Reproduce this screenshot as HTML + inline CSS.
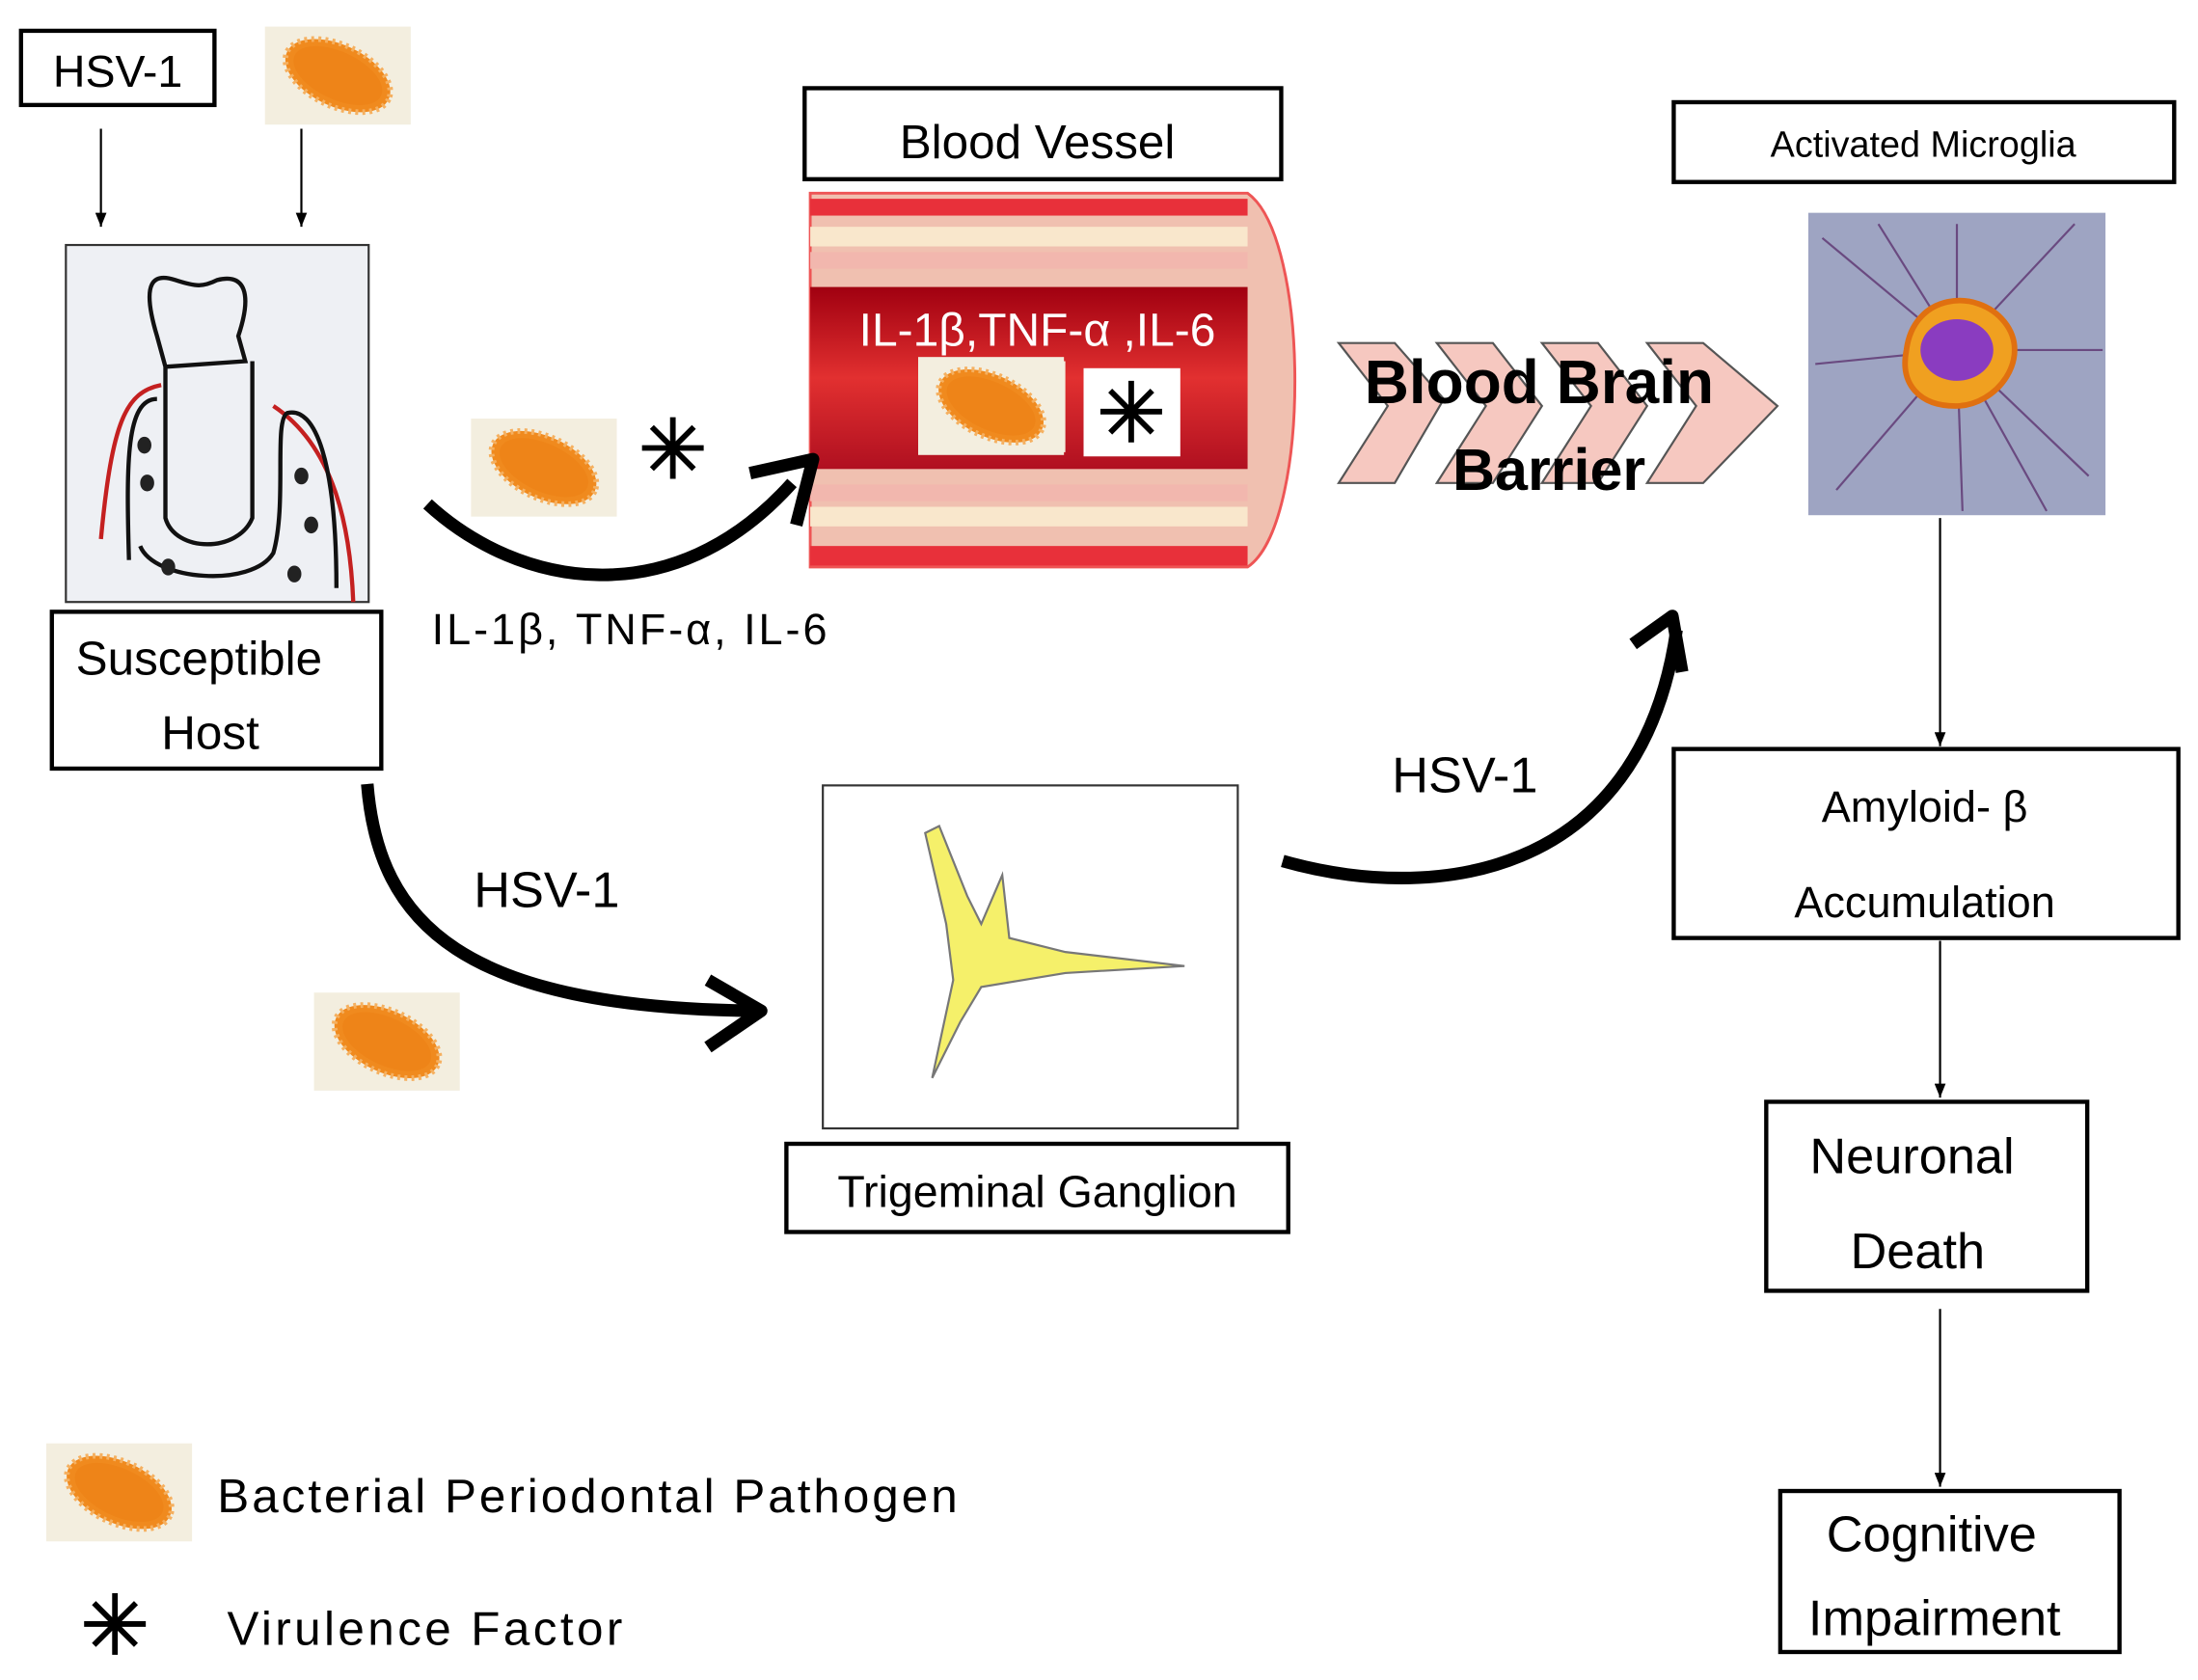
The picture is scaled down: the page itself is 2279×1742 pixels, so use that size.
<!DOCTYPE html>
<html><head><meta charset="utf-8"><style>html,body{margin:0;padding:0;background:#fff}svg{display:block}text{font-family:"Liberation Sans",sans-serif}</style></head><body>
<svg width="2279" height="1742" viewBox="0 0 1568 1200" preserveAspectRatio="none" xmlns="http://www.w3.org/2000/svg">
<defs>
<marker id="a" markerWidth="10" markerHeight="8" refX="10" refY="4" orient="auto" markerUnits="userSpaceOnUse"><path d="M0,0 L10,4 L0,8z" fill="#000"/></marker>
<g id="bac"><rect x="-52" y="-35" width="104" height="70" fill="#f3eedf"/><g transform="rotate(25)"><ellipse rx="40" ry="22" fill="#f08a1e" stroke="#f5b060" stroke-width="4" stroke-dasharray="2 3"/><ellipse rx="34" ry="17" fill="#ee8418"/></g></g>
<g id="star" stroke="#000" stroke-width="4"><path d="M0,-22V22M-22,0H22M-15,-15L15,15M-15,15L15,-15"/></g>
<linearGradient id="red" x1="0" y1="0" x2="0" y2="1"><stop offset="0" stop-color="#a00010"/><stop offset="0.5" stop-color="#e23030"/><stop offset="1" stop-color="#b01020"/></linearGradient>
</defs>
<g fill="none" stroke="#000" stroke-width="3">
<rect x="15" y="22" width="138" height="53"/>
<rect x="37" y="437" width="235" height="112"/>
<rect x="574" y="63" width="340" height="65"/>
<rect x="1194" y="73" width="357" height="57"/>
<rect x="1194" y="535" width="360" height="135"/>
<rect x="1260" y="787" width="229" height="135"/>
<rect x="1270" y="1065" width="242" height="115"/>
<rect x="561" y="817" width="358" height="63"/>
</g>
<text x="84" y="62" font-size="32" text-anchor="middle">HSV-1</text>
<use href="#bac" x="241" y="54"/>
<g stroke="#000" stroke-width="1.5"><line x1="72" y1="92" x2="72" y2="162" marker-end="url(#a)"/><line x1="215" y1="92" x2="215" y2="162" marker-end="url(#a)"/>
<line x1="1384" y1="370" x2="1384" y2="533" marker-end="url(#a)"/><line x1="1384" y1="672" x2="1384" y2="784" marker-end="url(#a)"/><line x1="1384" y1="935" x2="1384" y2="1062" marker-end="url(#a)"/></g>
<rect x="47" y="175" width="216" height="255" fill="#eef0f4" stroke="#333" stroke-width="1.5"/>
<g fill="none" stroke-width="3">
<path d="M72,385 C80,300 90,280 115,275 M252,430 C250,380 240,320 195,290" stroke="#c42020"/>
<path d="M112,240 C100,200 110,195 125,200 C140,205 145,205 155,200 C175,195 180,210 170,240 L175,258 L118,262 Z M118,262 L118,370 C125,395 170,395 180,370 L180,258" stroke="#111"/>
<path d="M92,400 C90,330 90,285 112,285 M100,390 C110,415 180,420 195,395 C205,360 195,300 205,295 C225,290 240,330 240,420" stroke="#111"/>
</g>
<g fill="#222"><ellipse cx="103" cy="318" rx="5" ry="6"/><ellipse cx="105" cy="345" rx="5" ry="6"/><ellipse cx="215" cy="340" rx="5" ry="6"/><ellipse cx="222" cy="375" rx="5" ry="6"/><ellipse cx="120" cy="405" rx="5" ry="6"/><ellipse cx="210" cy="410" rx="5" ry="6"/></g>
<text x="142" y="482" font-size="34" text-anchor="middle">Susceptible</text>
<text x="150" y="535" font-size="34" text-anchor="middle">Host</text>
<text x="740" y="113" font-size="34" text-anchor="middle">Blood  Vessel</text>
<path d="M578,138 H890 C935,170 935,375 890,405 H578 Z" fill="#f0c0b0" stroke="#e55" stroke-width="2"/>
<rect x="578" y="142" width="312" height="12" fill="#e8303a"/><rect x="578" y="162" width="312" height="14" fill="#f9e7cc"/><rect x="578" y="180" width="312" height="12" fill="#f2b7ae"/>
<rect x="578" y="346" width="312" height="12" fill="#f2b7ae"/><rect x="578" y="362" width="312" height="14" fill="#f9e7cc"/><rect x="578" y="390" width="312" height="14" fill="#e8303a"/>
<rect x="578" y="205" width="312" height="130" fill="url(#red)"/>
<text x="740" y="247" font-size="33" fill="#fff" text-anchor="middle">IL-1β,TNF-α ,IL-6</text>
<rect x="655" y="258" width="105" height="65" fill="#f3eedf"/><use href="#bac" x="707" y="290"/>
<rect x="773" y="263" width="69" height="63" fill="#fff"/><use href="#star" x="807" y="294"/>
<use href="#bac" x="388" y="334"/><use href="#star" x="480" y="320"/>
<path d="M305,360 C370,420 480,440 565,345" fill="none" stroke="#000" stroke-width="9"/>
<path d="M535,338 L580,328 L568,375" fill="none" stroke="#000" stroke-width="9" stroke-linejoin="round"/>
<text x="308" y="460" font-size="31" textLength="282">IL-1β, TNF-α, IL-6</text>
<g fill="#f6c8c0" stroke="#555" stroke-width="1.5">
<path d="M955,245 L995,245 L1030,285 L995,345 L955,345 L990,290Z"/><path d="M1025,245 L1065,245 L1100,290 L1065,345 L1025,345 L1060,290Z"/><path d="M1100,245 L1140,245 L1175,290 L1140,345 L1100,345 L1135,290Z"/><path d="M1175,245 L1215,245 L1268,290 L1215,345 L1175,345 L1210,290Z"/>
</g>
<text x="1098" y="288" font-size="44" font-weight="bold" text-anchor="middle">Blood Brain</text>
<text x="1105" y="350" font-size="42" font-weight="bold" text-anchor="middle">Barrier</text>
<text x="1372" y="112" font-size="26" text-anchor="middle">Activated Microglia</text>
<rect x="1290" y="152" width="212" height="216" fill="#9ea4c2"/>
<g stroke="#6a4a80" stroke-width="1.5" fill="none"><path d="M1396,250 L1300,170 M1396,250 L1480,160 M1396,250 L1310,350 M1396,250 L1490,340 M1396,250 L1396,160 M1396,250 L1400,365 M1396,250 L1295,260 M1396,250 L1500,250 M1396,250 L1340,160 M1396,250 L1460,365"/></g>
<path d="M1360,250 C1365,210 1410,205 1430,230 C1450,255 1425,290 1395,290 C1370,290 1355,275 1360,250Z" fill="#f0a020" stroke="#e07010" stroke-width="4"/>
<ellipse cx="1396" cy="250" rx="26" ry="22" fill="#8a3cc0"/>
<text x="1373" y="587" font-size="31" text-anchor="middle">Amyloid- β</text>
<text x="1373" y="655" font-size="31" text-anchor="middle">Accumulation</text>
<text x="1364" y="838" font-size="36" text-anchor="middle">Neuronal</text>
<text x="1368" y="906" font-size="36" text-anchor="middle">Death</text>
<text x="1378" y="1108" font-size="36" text-anchor="middle">Cognitive</text>
<text x="1380" y="1168" font-size="36" text-anchor="middle">Impairment</text>
<rect x="587" y="561" width="296" height="245" fill="#fff" stroke="#333" stroke-width="1.5"/>
<path d="M660,595 L675,660 L680,700 L665,770 L685,730 L700,705 L760,695 L845,690 L760,680 L720,670 L715,625 L700,660 L690,640 L670,590Z" fill="#f5f06a" stroke="#777" stroke-width="1.5"/>
<text x="740" y="862" font-size="32" text-anchor="middle">Trigeminal Ganglion</text>
<path d="M262,560 C270,660 330,720 540,722" fill="none" stroke="#000" stroke-width="9"/>
<path d="M505,700 L543,722 L505,748" fill="none" stroke="#000" stroke-width="9" stroke-linejoin="round"/>
<text x="390" y="648" font-size="36" text-anchor="middle">HSV-1</text>
<use href="#bac" x="276" y="744"/>
<path d="M915,615 C1020,645 1170,630 1196,450" fill="none" stroke="#000" stroke-width="9"/>
<path d="M1165,460 L1193,440 L1200,480" fill="none" stroke="#000" stroke-width="9" stroke-linejoin="round"/>
<text x="1045" y="566" font-size="36" text-anchor="middle">HSV-1</text>
<use href="#bac" x="85" y="1066"/>
<text x="155" y="1080" font-size="34" textLength="528">Bacterial Periodontal Pathogen</text>
<use href="#star" x="82" y="1160"/>
<text x="162" y="1175" font-size="34" textLength="282">Virulence Factor</text>
</svg>
</body></html>
